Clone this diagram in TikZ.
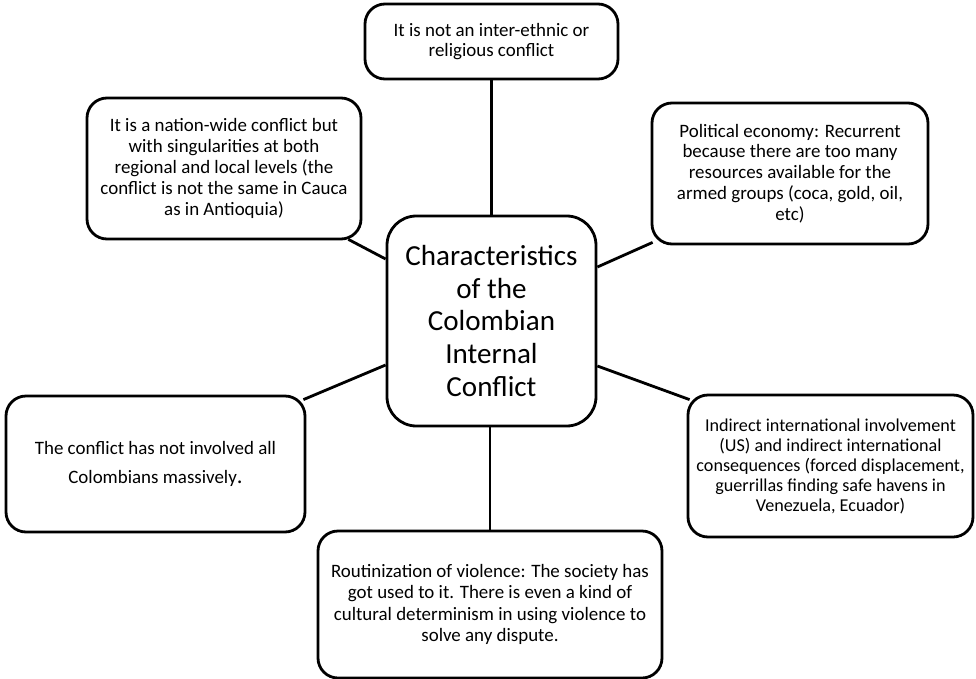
\documentclass[tikz,border=0pt]{standalone}
\usepackage{fontspec}
\setmainfont{Carlito}
\usetikzlibrary{calc}
\tikzset{
  box/.style={draw=black, line width=2.1pt, rounded corners=15pt, align=center, inner sep=0pt,
    font=\fontsize{14.2pt}{15.6pt}\selectfont},
  hub/.style={draw=black, line width=2.1pt, rounded corners=22pt, align=center, inner sep=0pt,
    font=\fontsize{21.8pt}{24.4pt}\selectfont},
  link/.style={draw=black, line width=2.1pt}
}
\begin{document}
\begin{tikzpicture}[x=0.75pt,y=-0.75pt]
\useasboundingbox (0,0) rectangle (976,679);
\node[hub, minimum width=156.75pt, minimum height=157.5pt] (c) at (491.5,321)
  {Characteristics\\of the\\Colombian\\Internal\\Conflict};
\node[box, minimum width=189.75pt, minimum height=56.25pt] (t) at (491.5,41.5)
  {It is not an inter-ethnic or\\religious conflict};
\node[box, minimum width=205.5pt, minimum height=105.75pt] (tl) at (224,168.5)
  {It is a nation-wide conflict but\\with singularities at both\\regional and local levels (the\\conflict is not the same in Cauca\\as in Antioquia)};
\node[box, minimum width=207pt, minimum height=105.75pt] (pe) at (790,173.5)
  {Political economy: Recurrent\\because there are too many\\resources available for the\\armed groups (coca, gold, oil,\\etc)};
\node[box, minimum width=224.25pt, minimum height=102pt, font=\fontsize{14.2pt}{21.75pt}\selectfont] (bl) at (155.5,464)
  {The conflict has not involved all\\Colombians massively{\fontsize{17pt}{17pt}\selectfont .}};
\node[box, minimum width=213.75pt, minimum height=106.5pt, font=\fontsize{13.6pt}{15pt}\selectfont] (rb) at (830.5,466)
  {Indirect international involvement\\(US) and indirect international\\consequences (forced displacement,\\guerrillas finding safe havens in\\Venezuela, Ecuador)};
\node[box, minimum width=258pt, minimum height=110.25pt, font=\fontsize{14.2pt}{16pt}\selectfont] (bt) at (490,604.5)
  {Routinization of violence: The society has\\got used to it. There is even a kind of\\cultural determinism in using violence to\\solve any dispute.};
\draw[link] (t.south) -- (c.north);
\draw[link] (bt.north) -- (bt.north |- c.south);
\draw[link] ($(tl.south east)+(-14,-1)$) -- ($(c.west)+(0,-62)$);
\draw[link] ($(c.east)+(0,-54)$) -- ($(pe.south west)+(2,-3)$);
\draw[link] ($(bl.north east)+(-3,5)$) -- ($(c.west)+(0,44)$);
\draw[link] ($(c.east)+(0,45)$) -- ($(rb.north west)+(3,6)$);
\end{tikzpicture}
\end{document}
